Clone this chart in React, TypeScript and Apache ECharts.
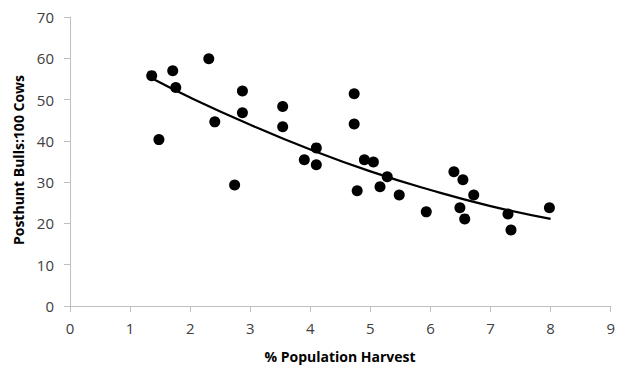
import React, { useEffect, useRef } from "react";
import * as echarts from "echarts";

const harvestPct = [1.36, 1.48, 1.71, 1.76, 2.31, 2.41, 2.74, 2.87, 2.87, 3.54, 3.54, 3.9, 4.1, 4.1, 4.73, 4.73, 4.78, 4.9, 5.05, 5.28, 5.16, 5.48, 5.93, 6.39, 6.54, 6.49, 6.57, 6.72, 7.29, 7.34, 7.98];
const bullsPer100 = [55.8, 40.3, 57.0, 52.9, 59.9, 44.6, 29.3, 52.1, 46.8, 48.3, 43.4, 35.4, 38.3, 34.2, 51.4, 44.1, 27.9, 35.4, 34.9, 31.3, 28.9, 26.9, 22.8, 32.5, 30.6, 23.8, 21.1, 26.9, 22.3, 18.4, 23.8];

const trendX = [1.37, 2, 3, 4, 5, 6, 7, 8];
const trendY = [55.1, 50.5, 43.9, 37.9, 32.6, 28.1, 24.2, 21.1];

const xTitle = "% Population Harvest";
const yTitle = "Posthunt Bulls:100 Cows";

export default function App() {
  const ref = useRef<HTMLDivElement>(null);
  useEffect(() => {
    const chart = echarts.init(ref.current!, null, { renderer: "svg" });
    const font = "'Open Sans', 'DejaVu Sans', sans-serif";
    chart.setOption({
      animation: false,
      backgroundColor: "#ffffff",
      grid: { left: 70, right: 6, top: 17, bottom: 61 },
      xAxis: {
        type: "value",
        min: 0,
        max: 9,
        interval: 1,
        axisLine: { show: true, lineStyle: { color: "#bfbfbf", width: 1 } },
        axisTick: { show: true, length: 6, lineStyle: { color: "#bfbfbf" } },
        splitLine: { show: false },
        axisLabel: { color: "#404040", fontSize: 15, fontFamily: font, margin: 14 },
      },
      yAxis: {
        type: "value",
        min: 0,
        max: 70,
        interval: 10,
        axisLine: { show: true, lineStyle: { color: "#bfbfbf", width: 1 } },
        axisTick: { show: true, length: 6, lineStyle: { color: "#bfbfbf" } },
        splitLine: { show: false },
        axisLabel: { color: "#404040", fontSize: 15, fontFamily: font, margin: 16 },
      },
      graphic: [
        {
          type: "text",
          x: 340,
          y: 356,
          style: {
            text: xTitle,
            font: `bold 14px ${font}`,
            fill: "#000",
            align: "center",
            verticalAlign: "middle",
          },
        },
        {
          type: "text",
          x: 18,
          y: 160,
          rotation: Math.PI / 2,
          style: {
            text: yTitle,
            font: `bold 14px ${font}`,
            fill: "#000",
            align: "center",
            verticalAlign: "middle",
          },
        },
      ],
      series: [
        {
          type: "line",
          data: trendX.map((x, i) => [x, trendY[i]]),
          smooth: true,
          showSymbol: false,
          lineStyle: { color: "#000", width: 2.2 },
          z: 2,
        },
        {
          type: "scatter",
          data: harvestPct.map((x, i) => [x, bullsPer100[i]]),
          symbol: "circle",
          symbolSize: 11,
          itemStyle: { color: "#000", opacity: 1 },
          z: 3,
        },
      ],
    });
    return () => chart.dispose();
  }, []);
  return (
    <div
      ref={ref}
      style={{ position: "fixed", left: 0, top: 0, width: 618, height: 367 }}
    />
  );
}
